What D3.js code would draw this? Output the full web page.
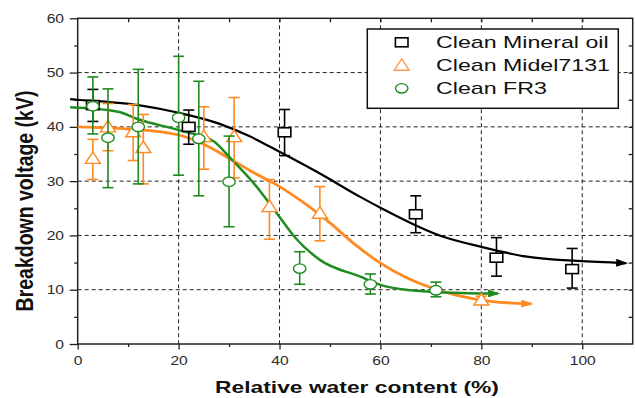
<!DOCTYPE html>
<html>
<head>
<meta charset="utf-8">
<script src="https://cdn.jsdelivr.net/npm/d3@7"></script>
<style>
  body { margin: 0; background: #fff; }
  text { font-family: "Liberation Sans", Arial, sans-serif; }
</style>
</head>
<body>
<div id="chart-area"></div>
<script>
// measured points (x = relative water content %, y = breakdown voltage kV)
var mineralX  = [3, 22, 41, 67, 83, 98];
var mineralY  = [44, 40, 39.0, 23.9, 15.9, 13.8];
var mineralHi = [46.9, 43.1, 43.2, 27.3, 19.6, 17.6];
var mineralLo = [41.0, 36.8, 34.7, 20.5, 12.5, 10.3];

var midelX  = [3, 6, 11, 13, 25, 31, 38, 48, 80];
var midelY  = [34.2, 40.0, 39.1, 36.2, 38.2, 38.2, 25.3, 24.1, 8.1];
var midelHi = [37.7, 44.3, 44.1, 42.3, 43.7, 45.4, 30.3, 29.0, 8.8];
var midelLo = [30.3, 35.6, 33.8, 29.5, 32.2, 30.6, 19.3, 19.0, 7.6];

var fr3X  = [3, 6, 12, 20, 24, 30, 44, 58, 71];
var fr3Y  = [43.8, 38.0, 40.0, 41.7, 37.8, 29.9, 13.9, 11.0, 9.9];
var fr3Hi = [49.2, 47.0, 50.6, 53.0, 48.4, 38.3, 17.0, 12.9, 11.4];
var fr3Lo = [38.7, 28.8, 29.5, 31.1, 27.3, 21.6, 11.0, 9.2, 8.7];

// fitted trend curves
var mineralFitX = [-1.5, 0, 12, 20, 28, 34, 40, 48, 56, 60, 72, 80, 89, 99, 108.7];
var mineralFitY = [45.1, 45.0, 44.0, 42.6, 40.6, 38.3, 35.4, 31.4, 27.1, 25.1, 19.9, 17.9, 16.1, 15.3, 14.9];
var midelFitX = [0, 10, 20, 25, 30, 35, 40, 45, 50, 55, 60, 65, 70, 75, 80, 85, 89.9];
var midelFitY = [40.0, 39.6, 38.5, 36.8, 34.2, 31.5, 29.0, 25.9, 22.3, 18.3, 14.9, 12.3, 10.4, 9.0, 8.1, 7.6, 7.4];
var fr3FitX = [-1.5, 8, 12, 20, 27, 30, 35, 40, 43, 48, 56, 60, 66, 73, 83.3];
var fr3FitY = [43.6, 42.8, 41.4, 39.4, 37.3, 34.5, 29.5, 23.4, 19.7, 15.5, 12.4, 10.9, 9.9, 9.5, 9.3];

var seriesNames = ["Clean Mineral oil", "Clean Midel7131", "Clean FR3"];
var xTicks = [0, 20, 40, 60, 80, 100];
var yTicks = [0, 10, 20, 30, 40, 50, 60];

var width = 635;
var height = 398;
var pLeft = 77.7, pRight = 632.7, pTop = 18.3, pBottom = 344;

var black = "#000000", orange = "#ff8a22", green = "#1f8c1f";

var svg = d3.select("#chart-area").append("svg")
    .attr("width", width)
    .attr("height", height);

var x = d3.scaleLinear().domain([0, 110]).range([pLeft, pRight]);
var y = d3.scaleLinear().domain([0, 60]).range([pBottom, pTop]);

// arrow heads
var defs = svg.append("defs");
[["arrBlack", black], ["arrOrange", orange], ["arrGreen", green]].forEach(function(a) {
    defs.append("marker")
        .attr("id", a[0])
        .attr("viewBox", "0 0 12 8")
        .attr("markerUnits", "userSpaceOnUse")
        .attr("markerWidth", 12)
        .attr("markerHeight", 8)
        .attr("refX", 10)
        .attr("refY", 4)
        .attr("orient", "auto")
      .append("path")
        .attr("d", "M0,0 L12,4 L0,8 Z")
        .attr("fill", a[1]);
});

// dashed grid
svg.append("g").selectAll("line").data([10, 20, 30, 40, 50]).enter()
    .append("line")
        .attr("x1", pLeft).attr("x2", pRight)
        .attr("y1", d => y(d)).attr("y2", d => y(d))
        .attr("stroke", "#222").attr("stroke-width", 1)
        .attr("stroke-dasharray", "4,3");
svg.append("g").selectAll("line").data([20, 40, 60, 80, 100]).enter()
    .append("line")
        .attr("x1", d => x(d)).attr("x2", d => x(d))
        .attr("y1", pTop).attr("y2", pBottom)
        .attr("stroke", "#222").attr("stroke-width", 1)
        .attr("stroke-dasharray", "4,3");

// axes
function styleAxis(g) {
    g.select(".domain").remove();
    g.selectAll(".tick line").attr("stroke", "#222").attr("stroke-width", 1.3);
}
svg.append("g").attr("transform", "translate(" + pLeft + ",0)")
    .call(d3.axisLeft(y).tickValues(d3.range(5, 60, 10)).tickSize(3.5).tickFormat(""))
    .call(styleAxis);
svg.append("g").attr("transform", "translate(0," + pBottom + ")")
    .call(d3.axisBottom(x).tickValues(d3.range(10, 110, 20)).tickSize(3).tickFormat(""))
    .call(styleAxis);
svg.append("g").attr("transform", "translate(0," + pTop + ")")
    .call(d3.axisTop(x).tickValues(d3.range(10, 110, 10)).tickSize(-4).tickFormat(""))
    .call(styleAxis);
svg.append("g").attr("transform", "translate(" + pRight + ",0)")
    .call(d3.axisRight(y).tickValues(d3.range(5, 60, 5)).tickSize(-4).tickFormat(""))
    .call(styleAxis);

var leftAxis = svg.append("g").attr("transform", "translate(" + pLeft + ",0)")
    .call(d3.axisLeft(y).tickValues(yTicks).tickSize(8))
    .call(styleAxis);
leftAxis.selectAll("text")
    .attr("font-size", "12.5px")
    .attr("fill", "#2b2b2b")
    .attr("font-family", "Liberation Sans, Arial, sans-serif")
    .attr("x", -13.7 / 1.25)
    .attr("transform", "scale(1.25,1)");

var bottomAxis = svg.append("g").attr("transform", "translate(0," + pBottom + ")")
    .call(d3.axisBottom(x).tickValues(xTicks).tickSize(5.5))
    .call(styleAxis);
bottomAxis.selectAll("text")
    .attr("font-size", "12.5px")
    .attr("fill", "#2b2b2b")
    .attr("font-family", "Liberation Sans, Arial, sans-serif")
    .attr("y", 12)
    .attr("transform", "scale(1.25,1)");

// frame
svg.append("rect")
    .attr("x", pLeft).attr("y", pTop)
    .attr("width", pRight - pLeft).attr("height", pBottom - pTop)
    .attr("fill", "none")
    .attr("stroke", "#222").attr("stroke-width", 1.5);

// axis titles
svg.append("text")
    .attr("transform", "translate(357,393) scale(1.4,1)")
    .attr("text-anchor", "middle")
    .attr("font-size", "16.3px")
    .attr("font-weight", "bold")
    .attr("fill", "#111")
    .text("Relative water content (%)");
svg.append("text")
    .attr("transform", "translate(33,201) scale(1.2,1) rotate(-90)")
    .attr("text-anchor", "middle")
    .attr("font-size", "19.5px")
    .attr("font-weight", "bold")
    .attr("fill", "#111")
    .text("Breakdown voltage (kV)");

// fitted curves
var line = d3.line()
    .x(d => x(d[0]))
    .y(d => y(d[1]))
    .curve(d3.curveMonotoneX);

var fits = [
    [d3.zip(mineralFitX, mineralFitY), black, 2.2, "arrBlack"],
    [d3.zip(midelFitX, midelFitY), orange, 2.8, "arrOrange"],
    [d3.zip(fr3FitX, fr3FitY), green, 2.5, "arrGreen"]
];
fits.forEach(function(f) {
    svg.append("path")
        .attr("d", line(f[0]))
        .attr("fill", "none")
        .attr("stroke", f[1])
        .attr("stroke-width", f[2])
        .attr("marker-end", "url(#" + f[3] + ")");
});

// marker shapes
function drawMarker(sel, kind, color) {
    if (kind == "square") {
        sel.append("rect")
            .attr("x", -6.3).attr("y", -4.5)
            .attr("width", 12.6).attr("height", 9)
            .attr("fill", "#fff").attr("stroke", color).attr("stroke-width", 1.6);
    } else if (kind == "triangle") {
        sel.append("path")
            .attr("d", "M0,-6.5 L7.5,5 L-7.5,5 Z")
            .attr("fill", "#fff").attr("stroke", color).attr("stroke-width", 1.4);
    } else {
        sel.append("ellipse")
            .attr("rx", 6.2).attr("ry", 4.7)
            .attr("fill", "#fff").attr("stroke", color).attr("stroke-width", 1.4);
    }
}

var series = [
    {xs: mineralX, ys: mineralY, hi: mineralHi, lo: mineralLo, color: black, kind: "square"},
    {xs: midelX, ys: midelY, hi: midelHi, lo: midelLo, color: orange, kind: "triangle"},
    {xs: fr3X, ys: fr3Y, hi: fr3Hi, lo: fr3Lo, color: green, kind: "circle"}
];

series.forEach(function(s) {
    var pts = s.xs.map((v, i) => ({x: v, y: s.ys[i], hi: s.hi[i], lo: s.lo[i]}));
    var g = svg.append("g");
    var eb = g.selectAll("g.eb").data(pts).enter().append("g")
        .attr("class", "eb")
        .attr("stroke", s.color).attr("stroke-width", 1.6);
    eb.append("line")
        .attr("x1", d => x(d.x)).attr("x2", d => x(d.x))
        .attr("y1", d => y(d.hi)).attr("y2", d => y(d.lo));
    eb.append("line")
        .attr("x1", d => x(d.x) - 5.5).attr("x2", d => x(d.x) + 5.5)
        .attr("y1", d => y(d.hi)).attr("y2", d => y(d.hi));
    eb.append("line")
        .attr("x1", d => x(d.x) - 5.5).attr("x2", d => x(d.x) + 5.5)
        .attr("y1", d => y(d.lo)).attr("y2", d => y(d.lo));
    g.selectAll("g.pt").data(pts).enter().append("g")
        .attr("class", "pt")
        .attr("transform", d => "translate(" + x(d.x) + "," + y(d.y) + ")")
        .each(function() { drawMarker(d3.select(this), s.kind, s.color); });
});

// legend
var legend = svg.append("g");
legend.append("rect")
    .attr("x", 367.3).attr("y", 29)
    .attr("width", 251).attr("height", 79.3)
    .attr("fill", "#fff")
    .attr("stroke", "#111").attr("stroke-width", 1.5);
var rows = legend.selectAll("g.row").data(series).enter().append("g")
    .attr("class", "row")
    .attr("transform", (d, i) => "translate(401.7," + (42.3 + i * 23) + ")");
rows.each(function(d) { drawMarker(d3.select(this), d.kind, d.kind == "triangle" ? "#ff9c55" : d.color); });
rows.append("text")
    .attr("transform", "translate(34.3,6) scale(1.45,1)")
    .attr("font-size", "16px")
    .attr("fill", "#111")
    .text((d, i) => seriesNames[i]);
</script>
</body>
</html>
